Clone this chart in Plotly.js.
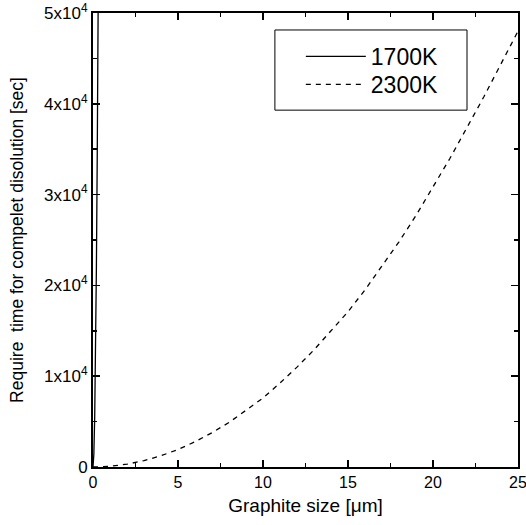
<!DOCTYPE html>
<html>
<head>
<meta charset="utf-8">
<script src="https://cdn.plot.ly/plotly-3.0.1.min.js"></script>
<style>html,body{margin:0;padding:0;background:#fff;}#chart{width:526px;height:525px;}</style>
</head>
<body>
<div id="chart"></div>
<script>
// 1700K: very steep curve near the origin
const size1700 = [0, 0.05, 0.1, 0.15, 0.2, 0.25, 0.3, 0.31];
const time1700 = [0, 1400, 5500, 12400, 22000, 34400, 49500, 52900];

// 2300K
const size2300 = [0, 1, 2, 3, 4, 5, 6, 7, 8, 9, 10, 11, 12, 13, 14, 15, 16, 17, 18, 19, 20, 21, 22, 23, 24, 25];
const time2300 = [0, 80, 310, 700, 1240, 1930, 2780, 3780, 4900, 6200, 7600, 9250, 11000, 12900, 14950, 17100, 19500, 22100, 24800, 27700, 30800, 34000, 37400, 40800, 44400, 48000];

const seriesNames = ['1700K', '2300K'];
const yTickVals = [0, 10000, 20000, 30000, 40000, 50000];
const yTickText = ['0', '1x10<sup>4</sup>', '2x10<sup>4</sup>', '3x10<sup>4</sup>', '4x10<sup>4</sup>', '5x10<sup>4</sup>'];
const yMinorVals = [5000, 15000, 25000, 35000, 45000];
const xTickVals = [0, 5, 10, 15, 20, 25];
const xMinorVals = [2.5, 7.5, 12.5, 17.5, 22.5];

const FONT = 'Liberation Sans, Arial, sans-serif';

const traces = [
  {x: size1700, y: time1700, name: seriesNames[0], mode: 'lines', legend: 'legend',
   line: {color: '#000', width: 1.3}},
  {x: size2300, y: time2300, name: seriesNames[1], mode: 'lines', legend: 'legend2',
   line: {color: '#000', width: 1.3, dash: '5px,5px'}}
];

const axisCommon = {
  showline: true, linecolor: '#000', linewidth: 2, mirror: 'allticks',
  ticks: 'inside', ticklen: 7, tickwidth: 1.5, tickcolor: '#000',
  showgrid: false, zeroline: false, ticklabeloverflow: 'allow'
};

const legendCommon = {
  x: 0.489, xanchor: 'left', yanchor: 'top',
  borderwidth: 0, bgcolor: 'rgba(0,0,0,0)',
  font: {family: FONT, size: 23, color: '#000'}, itemwidth: 60
};

const layout = {
  width: 526, height: 525,
  margin: {l: 93, r: 8, t: 13, b: 58},
  paper_bgcolor: '#fff', plot_bgcolor: '#fff',
  font: {family: FONT, color: '#000'},
  xaxis: Object.assign({}, axisCommon, {
    range: [0, 25], tickvals: xTickVals, ticktext: xTickVals.map(String),
    minor: {tickvals: xMinorVals, ticks: 'inside', ticklen: 4, tickcolor: '#000', tickwidth: 1.5},
    tickfont: {family: FONT, size: 16, color: '#000'},
    title: {text: 'Graphite size [\u03bcm]', font: {family: FONT, size: 19, color: '#000'}, standoff: 8}
  }),
  yaxis: Object.assign({}, axisCommon, {
    range: [0, 50000], tickvals: yTickVals, ticktext: yTickText,
    minor: {tickvals: yMinorVals, ticks: 'inside', ticklen: 4, tickcolor: '#000', tickwidth: 1.5},
    tickfont: {family: FONT, size: 17, color: '#000'},
    title: {text: 'Require  time for compelet disolution [sec]', font: {family: FONT, size: 17.5, color: '#000'}, standoff: 16}
  }),
  showlegend: true,
  legend: Object.assign({}, legendCommon, {y: 0.9516}),
  legend2: Object.assign({}, legendCommon, {y: 0.8899}),
  shapes: [
    {type: 'rect', xref: 'paper', yref: 'paper', x0: 0.428, x1: 0.88, y0: 0.786, y1: 0.9626,
     line: {color: '#000', width: 1}, fillcolor: 'rgba(0,0,0,0)', layer: 'above'}
  ]
};

Plotly.newPlot('chart', traces, layout, {displayModeBar: false, staticPlot: true});
</script>
</body>
</html>
